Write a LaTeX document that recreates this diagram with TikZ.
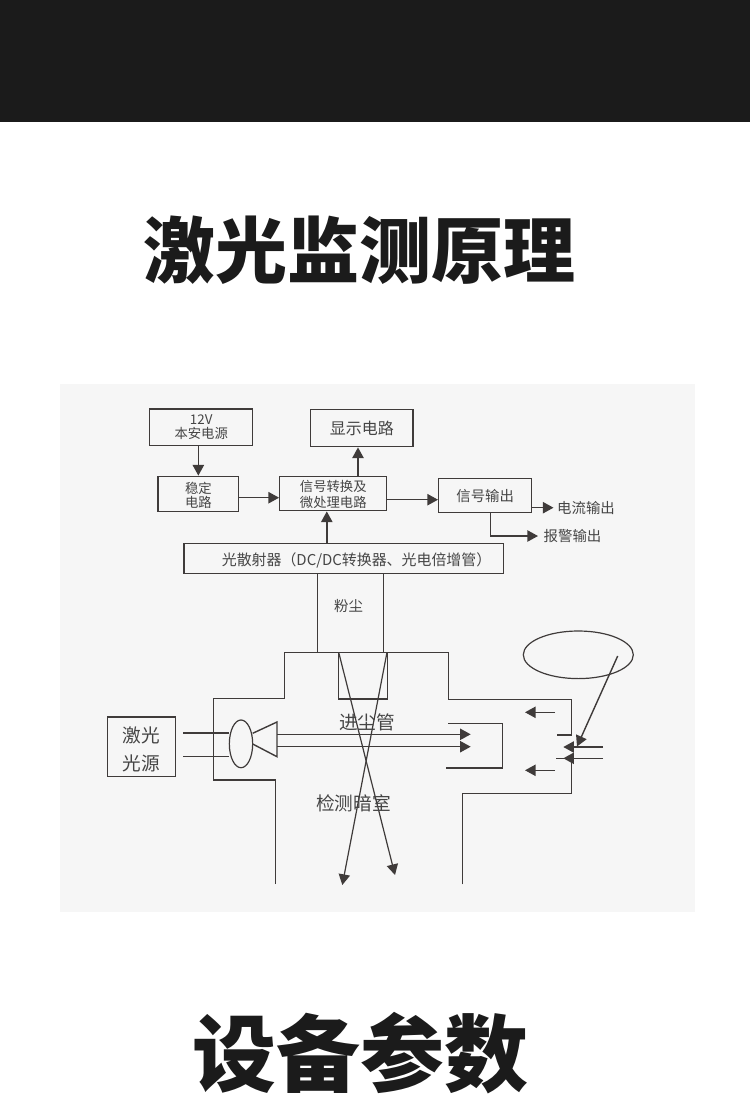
\documentclass[tikz,border=0pt]{standalone}
\usepackage{fontspec}
\setmainfont{Noto Sans CJK SC}
\usetikzlibrary{arrows.meta,shapes.geometric}
\definecolor{ink}{HTML}{3F3B3A}
\definecolor{txt}{HTML}{454545}
\definecolor{band}{HTML}{1B1B1B}
\definecolor{panel}{HTML}{F6F6F6}
\newcommand{\fs}[2]{\fontsize{#1}{#2}\selectfont}
\tikzset{
  boxnode/.style={draw=ink,line width=1.05pt,inner sep=0pt,align=center,text=txt},
  lab/.style={inner sep=0pt,align=center,text=txt},
  wire/.style={draw=ink,line width=1.05pt},
  arr/.style={wire,-{Triangle[length=8pt,width=8.5pt,color=ink]}},
  heading/.style={inner sep=0pt,text=band,font=\bfseries}
}
\begin{document}
\begin{tikzpicture}[x=0.75pt,y=-0.75pt]
\useasboundingbox (0,0) rectangle (750,1107);
\fill[white] (0,0) rectangle (750,1107);
\fill[band] (0,0) rectangle (750,122);
\fill[panel] (60,384) rectangle (695,912);
\node[heading,font=\fs{54}{60}\bfseries] (t1) at (359,250) {激光监测原理};
\node[heading,font=\fs{63}{70}\bfseries] (t2) at (360.5,1053) {设备参数};
% block diagram
\node[boxnode,minimum width=77.3pt,minimum height=27.5pt,font=\fs{10}{10.7}] (pwr) at (201.2,427.4) {12V\\本安电源};
\node[boxnode,minimum width=76.8pt,minimum height=27.75pt,font=\fs{12}{14}] (disp) at (361.8,428.2) {显示电路};
\node[boxnode,minimum width=60.4pt,minimum height=26.25pt,font=\fs{10}{11}] (stab) at (198.35,493.8) {\rule{0pt}{11pt}稳定\\电路};
\node[boxnode,minimum width=80.2pt,minimum height=25.5pt,font=\fs{10}{12}] (proc) at (333.25,493.7) {\rule{0pt}{10.2pt}信号转换及\\微处理电路};
\node[boxnode,minimum width=69.75pt,minimum height=25.5pt,font=\fs{10.8}{12}] (sig) at (485.2,495.7) {信号输出};
\node[boxnode,minimum width=239.6pt,minimum height=22.5pt,font=\fs{11.2}{12}] (scat) at (343.55,558.7) {\rule{0pt}{12.9pt}\hspace*{19.5pt}光散射器（DC/DC转换器、光电倍增管）};
\node[lab,font=\fs{10.8}{12}] (cur) at (586,507.5) {电流输出};
\node[lab,font=\fs{10.8}{12}] (alm) at (572.5,536) {报警输出};
\node[lab,font=\fs{10.8}{12}] (dust) at (348.5,606.5) {粉尘};
\draw[arr] (pwr.south -| stab.north) -- (stab.north);
\coordinate (pd) at (358,476);
\draw[arr] (proc.north -| pd) -- (disp.south -| pd);
\draw[arr] (stab.east |- 0,497.7) -- (proc.west |- 0,497.7);
\draw[arr] (proc.east |- 0,499.7) -- (sig.west |- 0,499.7);
\coordinate (sp) at (326.8,544);
\draw[arr] (scat.north -| sp) -- (proc.south -| sp);
\coordinate (c1) at (553.5,507.7);
\draw[arr] (sig.east |- c1) -- (c1);
\coordinate (a0) at (490.5,512.7);
\coordinate (a1) at (538,536);
\draw[arr] (sig.south -| a0) -- (a0 |- a1) -- (a1);
% dust channel
\coordinate (dl) at (317.4,652.3);
\coordinate (dr) at (383.3,652.3);
\draw[wire] (scat.south -| dl) -- (dl);
\draw[wire] (scat.south -| dr) -- (dr);
% chamber
\draw[wire,line join=miter] (275.7,884) -- (275.7,780) -- (213.3,780) -- (213.3,698.7) -- (284.3,698.7) -- (284.3,652.3) -- (448.7,652.3) -- (448.7,699.3) -- (571.3,699.3) -- (571.3,735) -- (557,735);
\draw[wire] (462.3,884.3) -- (462.3,793.3) -- (571.3,793.3) -- (571.3,758.3) -- (556.3,758.3);
\draw[wire] (338.7,652.3) -- (338.7,699) -- (387.3,699) -- (387.3,652.3);
\draw[wire] (448,723.3) -- (502.3,723.3) -- (502.3,768) -- (446.3,768);
% crossing rays
\draw[arr,line width=0.9pt] (338.7,652.3) -- (395,875);
\draw[arr,line width=0.9pt] (387,652.3) -- (342.3,885);
% laser source
\node[boxnode,minimum width=51.3pt,minimum height=44.5pt,font=\fs{14}{21}] (laser) at (141.5,746.65) {\rule{0pt}{16.5pt}激光\\光源};
\node[draw=ink,line width=0.9pt,ellipse,inner sep=0pt,minimum width=17.5pt,minimum height=35.8pt] (lens) at (241,743.85) {};
\coordinate (l1) at (183,733);
\coordinate (l2) at (183,756.7);
\draw[wire,line width=0.9pt] (l1) -- (l1 -| lens.west);
\draw[wire,line width=0.9pt] (l2) -- (l2 -| lens.west);
\draw[wire] (252.7,733.3) -- (277,722) -- (277,756.7) -- (252.7,744);
\coordinate (b1) at (277,734.3);
\coordinate (b2) at (277,746.7);
\draw[arr] (b1) -- (470.7,734.3);
\draw[arr] (b2) -- (470.7,746.7);
% right side
\draw[arr] (555,712.3) -- (525,712.3);
\draw[arr] (555,770.3) -- (525,770.3);
\node[draw=ink,line width=0.9pt,ellipse,inner sep=0pt,minimum width=82.5pt,minimum height=35.7pt] (ring) at (578.3,654.8) {};
\draw[arr] (617.7,656) -- (577,746.5);
\draw[arr] (603,747) -- (563.3,747);
\draw[arr] (603,758.3) -- (563.3,758.3);
% labels
\node[lab,font=\fs{14}{16}] (inlet) at (367,722) {进尘管};
\node[lab,font=\fs{14}{16}] (room) at (353.5,803) {检测暗室};
\end{tikzpicture}
\end{document}
